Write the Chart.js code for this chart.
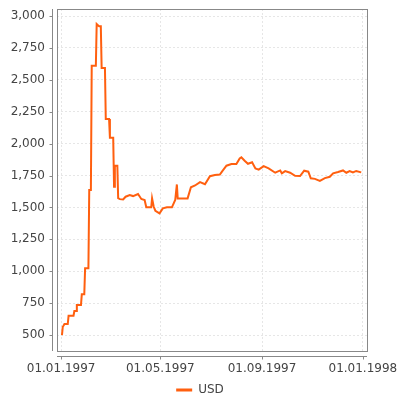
<!DOCTYPE html>
<html>
<head>
<meta charset="utf-8">
<script src="https://cdn.jsdelivr.net/npm/chart.js@4"></script>
<style>
html,body{margin:0;padding:0;background:#fff;}
#wrap{width:400px;height:400px;}
</style>
</head>
<body>
<div id="wrap"><canvas id="c" width="400" height="400"></canvas></div>
<script>
// Day offsets since 01.01.1997
const days = [1,2,3,4,8,9,15,16,18,19,24,25,28,29,33,34,36,37,42,43,45,46,48,49,53,54,58,59,63,64,65,68,69,71,75,78,83,87,93,97,101,103,109,110,112,114,119,123,128,134,138,140,141,153,157,162,168,174,180,186,192,195,200,206,212,216,218,222,226,231,235,239,245,251,259,265,267,271,277,283,289,294,299,302,307,313,319,325,329,335,341,345,349,353,357,363];
const usd = [500,565,575,586,586,651,651,688,688,735,735,819,819,1023,1023,1636,1636,2610,2610,2937,2924,2920,2920,2592,2592,2193,2193,2046,2046,1662,1827,1827,1573,1565,1563,1584,1597,1589,1605,1566,1558,1501,1501,1571,1505,1474,1454,1493,1501,1501,1558,1680,1571,1571,1658,1672,1698,1682,1745,1754,1758,1785,1827,1840,1840,1884,1893,1866,1842,1854,1806,1796,1824,1806,1772,1790,1767,1785,1772,1748,1746,1788,1780,1728,1724,1708,1730,1740,1767,1778,1790,1772,1785,1774,1786,1775];
const yTicks = [500,750,1000,1250,1500,1750,2000,2250,2500,2750,3000];
const xTickDays = [0,120,243,365];
const xTickLabels = ['01.01.1997','01.05.1997','01.09.1997','01.01.1998'];
const seriesName = 'USD';

const LINE = '#ff5f0f';
const AXIS = '#888888';
const TEXT = '#444444';
const GRID = '#e6e6e6';
const FONT = {family: 'DejaVu Sans', size: 12};

const framePlugin = {
  id: 'frame',
  afterDraw(chart) {
    const {ctx, chartArea: a} = chart;
    const xs = chart.scales.x, ys = chart.scales.y;
    ctx.save();
    ctx.strokeStyle = AXIS;
    ctx.lineWidth = 1;
    ctx.strokeRect(Math.round(a.left) + 0.5, Math.round(a.top) + 0.5, Math.round(a.right - a.left), Math.round(a.bottom - a.top));
    const yx = Math.round(a.left) - 5 + 0.5;
    ctx.beginPath();
    ctx.moveTo(yx, a.top); ctx.lineTo(yx, a.bottom);
    yTicks.forEach(v => { const p = Math.round(ys.getPixelForValue(v)) + 0.5; ctx.moveTo(yx - 3, p); ctx.lineTo(yx, p); });
    const xy = Math.round(a.bottom) + 5 + 0.5;
    ctx.moveTo(a.left, xy); ctx.lineTo(a.right, xy);
    xTickDays.forEach(v => { const p = Math.round(xs.getPixelForValue(v)) + 0.5; ctx.moveTo(p, xy); ctx.lineTo(p, xy + 3); });
    ctx.stroke();
    ctx.restore();
  }
};

new Chart(document.getElementById('c'), {
  type: 'line',
  data: {
    datasets: [{
      label: seriesName,
      data: days.map((d, i) => ({x: d, y: usd[i]})),
      borderColor: LINE,
      backgroundColor: LINE,
      borderWidth: 2,
      pointRadius: 0,
      tension: 0,
      fill: false
    }]
  },
  options: {
    responsive: false,
    animation: false,
    layout: {padding: {left: 0, right: 0, top: 9, bottom: -6}},
    plugins: {
      tooltip: {enabled: false},
      legend: {
        position: 'bottom',
        labels: {
          color: TEXT,
          font: FONT,
          boxWidth: 16,
          boxHeight: 3,
          padding: 4,
          generateLabels(chart) {
            const items = Chart.defaults.plugins.legend.labels.generateLabels(chart);
            items.forEach(it => { it.lineWidth = 0; it.fillStyle = LINE; });
            return items;
          }
        }
      }
    },
    scales: {
      x: {
        type: 'linear',
        min: -5,
        max: 370,
        afterFit(s) { s.height = 29; },
        afterBuildTicks(s) { s.ticks = xTickDays.map(v => ({value: v})); },
        grid: {color: GRID, drawTicks: true, tickLength: 11, tickColor: 'rgba(0,0,0,0)'},
        border: {display: false, dash: [2, 2]},
        ticks: {
          color: TEXT, font: FONT, padding: 0, maxRotation: 0, autoSkip: false,
          callback(v) { const i = xTickDays.indexOf(v); return i >= 0 ? xTickLabels[i] : ''; }
        }
      },
      y: {
        type: 'linear',
        position: 'left',
        min: 375,
        max: 3055,
        afterFit(s) { s.width = 57; },
        afterBuildTicks(s) { s.ticks = yTicks.map(v => ({value: v})); },
        grid: {color: GRID, drawTicks: true, tickLength: 12, tickColor: 'rgba(0,0,0,0)'},
        border: {display: false, dash: [2, 2]},
        ticks: {
          color: TEXT, font: FONT, padding: 0,
          callback(v) { return v.toLocaleString('en-US'); }
        }
      },
      yr: {
        type: 'linear',
        position: 'right',
        afterFit(s) { s.width = 33; },
        grid: {display: false, drawTicks: false},
        border: {display: false},
        ticks: {display: false, padding: 0}
      }
    }
  },
  plugins: [framePlugin]
});
</script>
</body>
</html>
